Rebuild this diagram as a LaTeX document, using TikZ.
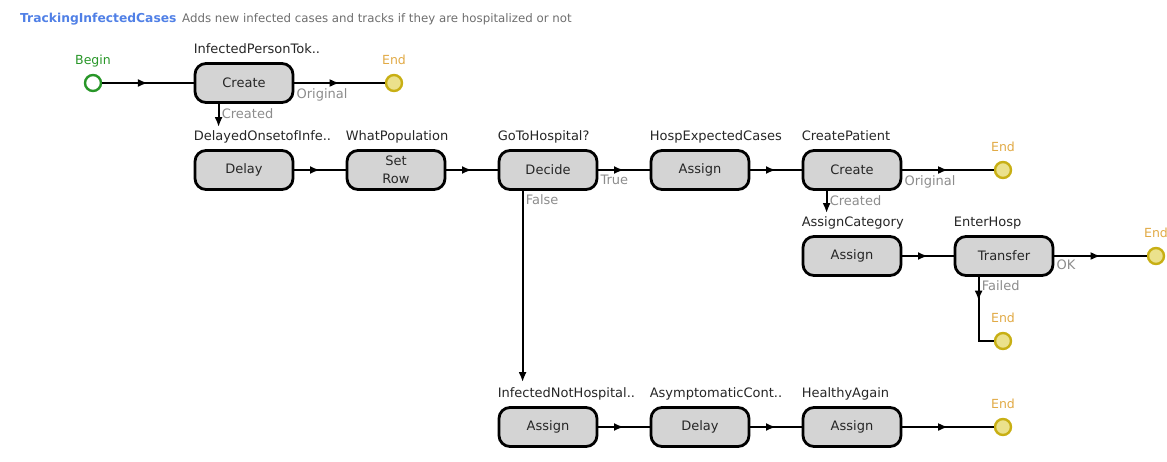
\documentclass[tikz,border=0pt]{standalone}
\usepackage{fontspec}
\setmainfont{DejaVu Sans}
\usetikzlibrary{arrows.meta,decorations.markings}
\definecolor{boxgray}{RGB}{212,212,212}
\definecolor{portgray}{RGB}{140,140,140}
\definecolor{titleblue}{RGB}{80,128,230}
\definecolor{descgray}{RGB}{110,110,110}
\definecolor{begingreen}{RGB}{40,150,40}
\definecolor{endline}{RGB}{200,175,20}
\definecolor{endfill}{RGB}{235,225,140}
\definecolor{endtext}{RGB}{225,170,70}

\begin{document}
\begin{tikzpicture}[x=1pt,y=-1pt,
  block/.style={draw,line width=2.8pt,rounded corners=11pt,fill=boxgray,minimum width=98pt,minimum height=39pt,inner sep=0pt,align=center,font=\fontsize{13}{18}\selectfont,text=black!85},
  blockname/.style={anchor=base west,inner sep=0pt,font=\fontsize{13}{15}\selectfont,text=black!85},
  portname/.style={anchor=north west,inner sep=0pt,font=\fontsize{13}{15}\selectfont,text=portgray},
  flow/.style={line width=2.2pt,postaction={decorate},decoration={markings,mark=at position #1 with {\arrow{Latex[length=10pt,width=8pt]}}}},
  flow/.default=0.5,
  drop/.style={line width=2.2pt,-{Latex[length=10pt,width=8pt]}},
  beginpt/.style={circle,draw=begingreen,line width=2.4pt,fill=white,minimum size=16pt,inner sep=0pt},
  endpt/.style={circle,draw=endline,line width=2.4pt,fill=endfill,minimum size=16pt,inner sep=0pt},
  ptname/.style={anchor=base,inner sep=0pt,font=\fontsize{12.5}{14}\selectfont}]
\useasboundingbox (0,0) rectangle (1167,461);
% header
\node[anchor=base west,inner sep=0pt,font=\fontsize{12.3}{14}\selectfont\bfseries,text=titleblue] (title) at (20,22) {TrackingInfectedCases};
\node[anchor=base west,inner sep=0pt,font=\fontsize{11.8}{14}\selectfont,text=descgray] (desc) at (182,22) {Adds new infected cases and tracks if they are hospitalized or not};
% steps
\node[block] (infected) at (244,83) {Create};
\node[block] (onset) at (244,170) {Delay};
\node[block] (population) at (396,170) {Set\\Row};
\node[block] (hospital) at (548,170) {Decide};
\node[block] (expected) at (700,170) {Assign};
\node[block] (patient) at (852,170) {Create};
\node[block] (category) at (852,256) {Assign};
\node[block] (enterhosp) at (1004,256) {Transfer};
\node[block] (nothosp) at (548,427) {Assign};
\node[block] (asympt) at (700,427) {Delay};
\node[block] (healthy) at (852,427) {Assign};
\node[blockname] at ([yshift=9pt]infected.north west) {InfectedPersonTok..};
\node[blockname] at ([yshift=9pt]onset.north west) {DelayedOnsetofInfe..};
\node[blockname] at ([yshift=9pt]population.north west) {WhatPopulation};
\node[blockname] at ([yshift=9pt]hospital.north west) {GoToHospital?};
\node[blockname] at ([yshift=9pt]expected.north west) {HospExpectedCases};
\node[blockname] at ([yshift=9pt]patient.north west) {CreatePatient};
\node[blockname] at ([yshift=9pt]category.north west) {AssignCategory};
\node[blockname] at ([yshift=9pt]enterhosp.north west) {EnterHosp};
\node[blockname] at ([yshift=9pt]nothosp.north west) {InfectedNotHospital..};
\node[blockname] at ([yshift=9pt]asympt.north west) {AsymptomaticCont..};
\node[blockname] at ([yshift=9pt]healthy.north west) {HealthyAgain};
% begin and ends
\node[beginpt] (begin) at (93,83) {};
\node[endpt] (end1) at (394,83) {};
\node[endpt] (end2) at (1003,170) {};
\node[endpt] (end3) at (1156,256) {};
\node[endpt] (end4) at (1003,341) {};
\node[endpt] (end5) at (1003,427) {};
\node[ptname,text=begingreen] at ([yshift=9pt]begin.north) {Begin};
\foreach \e in {end1,end2,end3,end4,end5}
  \node[ptname,text=endtext] at ([yshift=9pt]\e.north) {End};
% ports
\coordinate (infcreated) at ([xshift=25pt]infected.south west);
\coordinate (onsetin) at ([xshift=25pt,yshift=22pt]onset.north west);
\coordinate (hospfalse) at ([xshift=25pt]hospital.south west);
\coordinate (nothospin) at ([xshift=25pt,yshift=24pt]nothosp.north west);
\coordinate (patcreated) at ([xshift=25pt]patient.south west);
\coordinate (categoryin) at ([xshift=25pt,yshift=22pt]category.north west);
\coordinate (enterfailed) at ([xshift=25pt]enterhosp.south west);
% connectors
\draw[flow] (begin) -- (infected);
\draw[flow] (infected) -- (end1);
\draw[drop] (infcreated) -- (onsetin);
\draw[flow] (onset) -- (population);
\draw[flow] (population) -- (hospital);
\draw[flow] (hospital) -- (expected);
\draw[flow] (expected) -- (patient);
\draw[flow] (patient) -- (end2);
\draw[drop] (patcreated) -- (categoryin);
\draw[flow] (category) -- (enterhosp);
\draw[flow] (enterhosp) -- (end3);
\draw[flow=0.3] (enterfailed) |- (end4);
\draw[drop] (hospfalse) -- (nothospin);
\draw[flow] (nothosp) -- (asympt);
\draw[flow] (asympt) -- (healthy);
\draw[flow] (healthy) -- (end5);
% port labels
\node[portname] at ([xshift=2pt,yshift=-5pt]infected.east) {Original};
\node[portname] at ([xshift=3pt,yshift=-5pt]infcreated) {Created};
\node[portname] at ([xshift=2pt,yshift=-5pt]hospital.east) {True};
\node[portname] at ([xshift=3pt,yshift=-4pt]hospfalse) {False};
\node[portname] at ([xshift=2pt,yshift=-5pt]patient.east) {Original};
\node[portname] at ([xshift=3pt,yshift=-5pt]patcreated) {Created};
\node[portname] at ([xshift=2pt,yshift=-4pt]enterhosp.east) {OK};
\node[portname] at ([xshift=3pt,yshift=-4pt]enterfailed) {Failed};
\end{tikzpicture}
\end{document}
